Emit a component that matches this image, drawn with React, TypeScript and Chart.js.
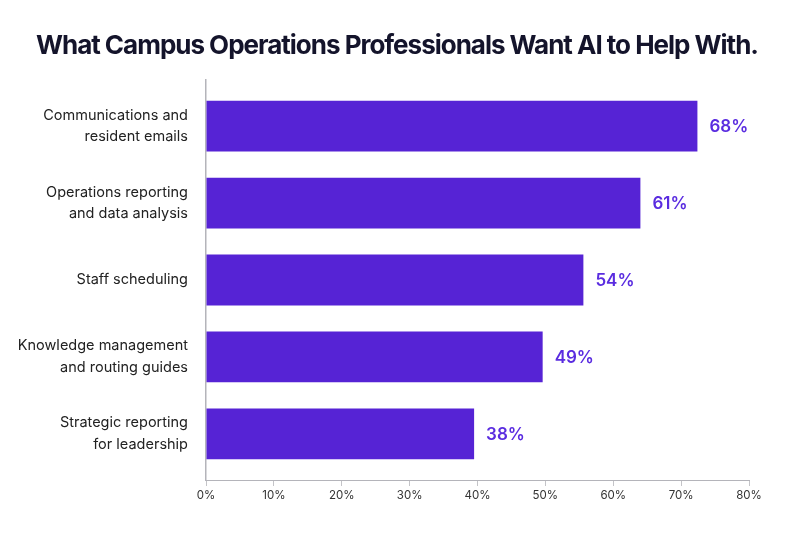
import React, { useEffect, useRef } from "react";
import { Chart, registerables } from "chart.js";

Chart.register(...registerables);

const TITLE = "What Campus Operations Professionals Want AI to Help With.";
const categories: string[][] = [
  ["Communications and", "resident emails"],
  ["Operations reporting", "and data analysis"],
  ["Staff scheduling"],
  ["Knowledge management", "and routing guides"],
  ["Strategic reporting", "for leadership"],
];
// bar lengths as drawn against the axis (percent)
const barLengths: number[] = [72.4, 64.0, 55.6, 49.6, 39.5];
// value labels as printed next to the bars
const valueLabels: string[] = ["68%", "61%", "54%", "49%", "38%"];
const xTicks: number[] = [0, 10, 20, 30, 40, 50, 60, 70, 80];

const BAR_COLOR = "#5623d5";
const LABEL_COLOR = "#5a2ce0";
const FONT = "Inter, 'Noto Sans', sans-serif";

export default function App() {
  const ref = useRef<HTMLCanvasElement | null>(null);

  useEffect(() => {
    document.body.style.margin = "0";
    const canvas = ref.current;
    if (!canvas) return;

    const valueLabelPlugin = {
      id: "valueLabels",
      afterDatasetsDraw(chart: any) {
        const ctx = chart.ctx;
        const meta = chart.getDatasetMeta(0);
        ctx.save();
        ctx.font = `600 17px ${FONT}`;
        ctx.fillStyle = LABEL_COLOR;
        ctx.textAlign = "left";
        ctx.textBaseline = "middle";
        meta.data.forEach((el: any, i: number) => {
          ctx.fillText(valueLabels[i], el.x + 12, el.y + 1);
        });
        ctx.restore();
      },
    };

    const titlePlugin = {
      id: "customTitle",
      afterDraw(chart: any) {
        const ctx = chart.ctx;
        ctx.save();
        ctx.font = `bold 26px ${FONT}`;
        ctx.fillStyle = "#14142b";
        ctx.textAlign = "left";
        ctx.textBaseline = "alphabetic";
        const targetWidth = 723;
        const w = ctx.measureText(TITLE).width;
        const ls = (targetWidth - w) / (TITLE.length - 1);
        (ctx as any).letterSpacing = `${ls}px`;
        ctx.fillText(TITLE, 36, 54);
        ctx.restore();
      },
    };

    const chart = new Chart(canvas, {
      type: "bar",
      data: {
        datasets: [
          {
            data: barLengths.map((v, i) => ({ x: v, y: i })),
            backgroundColor: BAR_COLOR,
            borderWidth: 0,
            categoryPercentage: 0.66,
            barPercentage: 1,
          },
        ],
      },
      options: {
        indexAxis: "y",
        responsive: false,
        animation: false,
        layout: { padding: { left: 0, right: 51, top: 80, bottom: 0 } },
        plugins: {
          legend: { display: false },
          tooltip: { enabled: false },
          title: { display: false },
        },
        scales: {
          x: {
            type: "linear",
            min: 0,
            max: 80,
            offset: false,
            afterBuildTicks: (axis: any) => {
              axis.ticks = xTicks.map((v) => ({ value: v }));
            },
            afterFit: (axis: any) => {
              axis.height = 54;
            },
            ticks: {
              callback: (v: any) => `${v}%`,
              color: "#333333",
              font: { family: FONT, size: 11.5 },
              padding: 3,
              maxRotation: 0,
            },
            grid: {
              display: true,
              drawOnChartArea: false,
              drawTicks: true,
              tickLength: 6,
              color: "#c4c4c8",
              offset: false,
            },
            border: { display: true, color: "#b4b4ba", width: 1 },
          },
          y: {
            type: "linear",
            reverse: true,
            min: -0.6,
            max: 4.6,
            offset: false,
            afterBuildTicks: (axis: any) => {
              axis.ticks = categories.map((_, i) => ({ value: i }));
            },
            afterFit: (axis: any) => {
              axis.width = 206;
            },
            ticks: {
              callback: (v: any) => categories[Math.round(v)] || "",
              color: "#222222",
              font: { family: FONT, size: 14.5, lineHeight: 1.5 },
              padding: 18,
            },
            grid: { display: false, drawTicks: false, offset: false },
            border: { display: true, color: "#b4b4ba", width: 1.5 },
          },
        },
      },
      plugins: [valueLabelPlugin, titlePlugin],
    } as any);

    return () => chart.destroy();
  }, []);

  return (
    <div style={{ position: "fixed", left: 0, top: 0, width: 800, height: 534, background: "#ffffff" }}>
      <canvas ref={ref} width={800} height={534} />
    </div>
  );
}
